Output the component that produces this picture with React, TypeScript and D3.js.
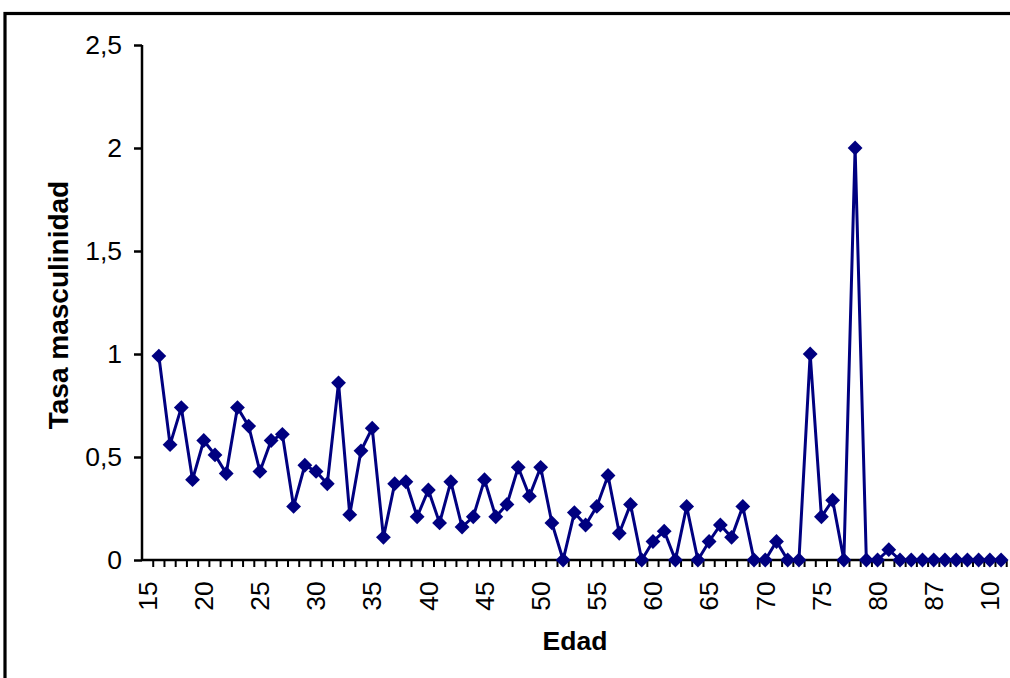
import { useEffect, useRef } from 'react';
import * as d3 from 'd3';

// ages on the category axis (Excel shows every 5th one)
const ages: string[] = [
  '15', '16', '17', '18', '19', '20', '21', '22', '23', '24',
  '25', '26', '27', '28', '29', '30', '31', '32', '33', '34',
  '35', '36', '37', '38', '39', '40', '41', '42', '43', '44',
  '45', '46', '47', '48', '49', '50', '51', '52', '53', '54',
  '55', '56', '57', '58', '59', '60', '61', '62', '63', '64',
  '65', '66', '67', '68', '69', '70', '71', '72', '73', '74',
  '75', '76', '77', '78', '79', '80', '81', '82', '84', '85',
  '87', '88', '89', '90', '91', '10', '104',
];

// tasa masculinidad, one per age (first row empty)
const rates: (number | null)[] = [
  null, 0.99, 0.56, 0.74, 0.39, 0.58, 0.51, 0.42, 0.74, 0.65,
  0.43, 0.58, 0.61, 0.26, 0.46, 0.43, 0.37, 0.86, 0.22, 0.53,
  0.64, 0.11, 0.37, 0.38, 0.21, 0.34, 0.18, 0.38, 0.16, 0.21,
  0.39, 0.21, 0.27, 0.45, 0.31, 0.45, 0.18, 0, 0.23, 0.17,
  0.26, 0.41, 0.13, 0.27, 0, 0.09, 0.14, 0, 0.26, 0,
  0.09, 0.17, 0.11, 0.26, 0, 0, 0.09, 0, 0, 1.0,
  0.21, 0.29, 0, 2.0, 0, 0, 0.05, 0, 0, 0,
  0, 0, 0, 0, 0, 0, 0,
];

const yTicks = [0, 0.5, 1, 1.5, 2, 2.5];

const W = 1010;
const H = 678;
const NAVY = '#000080';
const FONT = '"Liberation Sans", Arial, sans-serif';

export default function App() {
  const ref = useRef<SVGSVGElement | null>(null);

  useEffect(() => {
    if (!ref.current) return;
    const svg = d3.select(ref.current);
    svg.selectAll('*').remove();

    const left = 142;
    const step = 11.23;
    const bottom = 560;
    const top = 45;

    const x = d3
      .scaleBand<string>()
      .domain(ages.map((_, i) => String(i)))
      .range([left, left + step * ages.length])
      .paddingInner(0)
      .paddingOuter(0);
    const cx = (i: number) => (x(String(i)) ?? 0) + x.bandwidth() / 2;

    const y = d3.scaleLinear().domain([0, 2.5]).range([bottom, top]);

    // chart frame
    svg
      .append('rect')
      .attr('x', 5)
      .attr('y', 13.5)
      .attr('width', W + 20)
      .attr('height', H + 20)
      .attr('fill', 'white')
      .attr('stroke', '#000')
      .attr('stroke-width', 3.2);

    // y axis
    const yAxis = svg
      .append('g')
      .attr('transform', `translate(${left},0)`)
      .call(
        d3
          .axisLeft(y)
          .tickValues(yTicks)
          .tickSize(8)
          .tickPadding(12)
          .tickFormat(d => String(d).replace('.', ','))
      );
    yAxis.select('.domain').attr('stroke', '#000').attr('stroke-width', 2.5).attr('d', `M0,${top}V${bottom}`);
    yAxis.selectAll('.tick line').attr('stroke', '#000').attr('stroke-width', 2.5);
    yAxis
      .selectAll('.tick text')
      .attr('fill', '#000')
      .attr('font-family', FONT)
      .attr('font-size', 26.5);

    // x axis line + ticks between categories
    const xg = svg.append('g');
    xg.append('line')
      .attr('x1', left)
      .attr('x2', x.range()[1])
      .attr('y1', bottom)
      .attr('y2', bottom)
      .attr('stroke', '#000')
      .attr('stroke-width', 2.5);
    xg.selectAll('line.tk')
      .data(d3.range(1, ages.length + 1))
      .join('line')
      .attr('class', 'tk')
      .attr('x1', i => left + i * x.step())
      .attr('x2', i => left + i * x.step())
      .attr('y1', bottom)
      .attr('y2', bottom + 7)
      .attr('stroke', '#000')
      .attr('stroke-width', 2);

    xg.selectAll('text')
      .data(ages.map((a, i) => ({ a, i })).filter(d => d.i % 5 === 0))
      .join('text')
      .attr('transform', d => `translate(${cx(d.i)},596) rotate(-90)`)
      .attr('text-anchor', 'middle')
      .attr('dy', '0.35em')
      .attr('font-family', FONT)
      .attr('font-size', 26.5)
      .attr('fill', '#000')
      .text(d => d.a);

    // axis titles
    svg
      .append('text')
      .attr('transform', `translate(58,305) rotate(-90)`)
      .attr('text-anchor', 'middle')
      .attr('dy', '0.35em')
      .attr('font-family', FONT)
      .attr('font-weight', 'bold')
      .attr('font-size', 28)
      .text('Tasa masculinidad');

    svg
      .append('text')
      .attr('x', 575)
      .attr('y', 650)
      .attr('text-anchor', 'middle')
      .attr('font-family', FONT)
      .attr('font-weight', 'bold')
      .attr('font-size', 26.5)
      .text('Edad');

    // series
    const pts = rates.map((v, i) => [i, v] as [number, number | null]);
    const line = d3
      .line<[number, number | null]>()
      .defined(d => d[1] !== null)
      .x(d => cx(d[0]))
      .y(d => y(d[1]!));

    svg
      .append('path')
      .datum(pts)
      .attr('fill', 'none')
      .attr('stroke', NAVY)
      .attr('stroke-width', 3)
      .attr('stroke-linejoin', 'miter')
      .attr('d', line);

    const marker = d3.symbol().type(d3.symbolSquare).size(110);
    svg
      .append('g')
      .selectAll('path')
      .data(pts.filter(d => d[1] !== null))
      .join('path')
      .attr('transform', d => `translate(${cx(d[0])},${y(d[1]!)}) rotate(45)`)
      .attr('d', marker())
      .attr('fill', NAVY);
  }, []);

  return (
    <svg
      ref={ref}
      width={W}
      height={H}
      style={{ position: 'absolute', left: 0, top: 0, background: 'white' }}
    />
  );
}
